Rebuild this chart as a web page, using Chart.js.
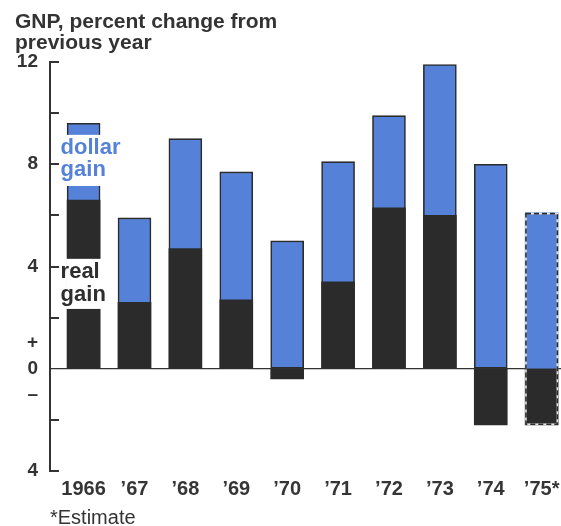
<!DOCTYPE html>
<html>
<head>
<meta charset="utf-8">
<script src="https://cdn.jsdelivr.net/npm/chart.js@4"></script>
<style>
    body { margin: 0; background: #fff; }
    #wrap { width: 561px; height: 526px; position: relative; }
</style>
</head>
<body>
<div id="wrap"><canvas id="gnpChart" width="561" height="526"></canvas></div>
<script>
// values
const years = ['1966', '\u201967', '\u201968', '\u201969', '\u201970', '\u201971', '\u201972', '\u201973', '\u201974', '\u201975*'];
const dollarGain = [9.6, 5.9, 9.0, 7.7, 5.0, 8.1, 9.9, 11.9, 8.0, 6.1];
const realGain = [6.6, 2.6, 4.7, 2.7, -0.4, 3.4, 6.3, 6.0, -2.2, -2.2];
const estimated = [false, false, false, false, false, false, false, false, false, true];
const yTickValues = [12, 8, 4, 1, 0, -1, -4];
const yTickText = ['12', '8', '4', '+', '0', '\u2013', '4'];
const yTickMarks = [12, 10, 8, 6, 4, 2, -2, -4];

const BLUE = '#5582d8';
const BLACK = '#2b2b2b';
const INK = '#333333';
const FONT = "'Liberation Sans', Arial, Helvetica, sans-serif";

// inward tick marks on the y axis
const tickMarks = {
    id: 'tickMarks',
    afterDraw(chart) {
        const ctx = chart.ctx;
        const y = chart.scales.y;
        const left = chart.chartArea.left;
        ctx.save();
        ctx.strokeStyle = INK;
        ctx.lineWidth = 2;
        yTickMarks.forEach(v => {
            const py = Math.round(y.getPixelForValue(v));
            ctx.beginPath();
            ctx.moveTo(left - 1, py);
            ctx.lineTo(left + 9, py);
            ctx.stroke();
        });
        ctx.restore();
    }
};

// dashed outline for estimates, inline labels on the first bar, footnote
const annotations = {
    id: 'annotations',
    afterDatasetsDraw(chart) {
        const ctx = chart.ctx;
        const y = chart.scales.y;
        const black = chart.getDatasetMeta(0).data;
        const blue = chart.getDatasetMeta(1).data;

        ctx.save();
        ctx.lineWidth = 1.6;
        estimated.forEach((est, i) => {
            if (!est) return;
            const b = blue[i], k = black[i];
            const top = Math.min(b.y, b.base, k.y, k.base);
            const bottom = Math.max(b.y, b.base, k.y, k.base);
            const rect = [b.x - b.width / 2 + 0.8, top + 0.8, b.width - 1.6, bottom - top - 1.6];
            ctx.setLineDash([]);
            ctx.strokeStyle = '#e8e8e8';
            ctx.strokeRect(...rect);
            ctx.setLineDash([5, 3]);
            ctx.strokeStyle = BLACK;
            ctx.strokeRect(...rect);
        });
        ctx.restore();

        // "dollar gain" / "real gain" written over the 1966 bar
        const bar = blue[0];
        const bx = bar.x - bar.width / 2;
        const tx = bar.x - 23;
        const gaps = [
            { from: 9.15, to: 7.15, color: BLUE, lines: ['dollar', 'gain'], base: 8.4, step: 22 },
            { from: 4.3, to: 2.34, color: '#2e2e2e', lines: ['real', 'gain'], base: 3.54, step: 23 }
        ];
        ctx.save();
        ctx.font = 'bold 22px ' + FONT;
        ctx.textBaseline = 'alphabetic';
        gaps.forEach(g => {
            const top = y.getPixelForValue(g.from);
            const bottom = y.getPixelForValue(g.to);
            ctx.fillStyle = '#fff';
            ctx.fillRect(bx - 1, top, bar.width + 2, bottom - top);
            ctx.fillStyle = g.color;
            const by = y.getPixelForValue(g.base);
            ctx.fillText(g.lines[0], tx, by);
            ctx.fillText(g.lines[1], tx, by + g.step);
        });
        ctx.restore();
    },
    afterDraw(chart) {
        const ctx = chart.ctx;
        ctx.save();
        ctx.font = '20px ' + FONT;
        ctx.fillStyle = INK;
        ctx.textBaseline = 'alphabetic';
        ctx.fillText('*Estimate', chart.chartArea.left, chart.height - 2);
        ctx.restore();
    }
};

const ctx = document.getElementById('gnpChart');
new Chart(ctx, {
    type: 'bar',
    data: {
        datasets: [{
            label: 'real gain',
            data: realGain.map((v, i) => ({ x: i, y: [0, v] })),
            backgroundColor: BLACK,
            borderWidth: 0,
            grouped: false,
            barThickness: 33
        }, {
            label: 'dollar gain',
            data: dollarGain.map((v, i) => ({ x: i, y: [0, v] })),
            backgroundColor: BLUE,
            borderColor: BLACK,
            borderWidth: estimated.map(e => e ? 0 : 1.6),
            borderSkipped: false,
            grouped: false,
            barThickness: 33
        }]
    },
    options: {
        responsive: false,
        animation: false,
        layout: {
            padding: { left: 15, right: 0, top: 0, bottom: 20 }
        },
        plugins: {
            legend: { display: false },
            tooltip: { enabled: false },
            title: {
                display: true,
                text: ['GNP, percent change from', 'previous year'],
                align: 'start',
                color: INK,
                font: { family: FONT, size: 21, weight: 'bold', lineHeight: 1 },
                padding: { top: 12, bottom: 8 }
            }
        },
        scales: {
            x: {
                type: 'linear',
                offset: false,
                min: -0.66,
                max: 9.38,
                afterBuildTicks: scale => {
                    scale.ticks = years.map((_, i) => ({ value: i }));
                },
                afterFit: scale => { scale.height = 35; },
                grid: { display: false },
                border: { display: false },
                ticks: {
                    autoSkip: false,
                    maxRotation: 0,
                    padding: -2,
                    color: '#353535',
                    font: { family: FONT, size: 20, weight: 'bold' },
                    callback: value => years[Math.round(value)]
                }
            },
            y: {
                min: -4,
                max: 12,
                afterBuildTicks: scale => {
                    scale.ticks = yTickValues.map(v => ({ value: v }));
                },
                afterFit: scale => { scale.width = 35; },
                grid: {
                    drawTicks: false,
                    lineWidth: 1.2,
                    color: c => (c.tick && c.tick.value === 0) ? INK : 'rgba(0,0,0,0)'
                },
                border: { display: true, color: INK, width: 2 },
                ticks: {
                    autoSkip: false,
                    padding: 12,
                    color: INK,
                    font: { family: FONT, size: 19, weight: 'bold' },
                    callback: value => yTickText[yTickValues.indexOf(value)]
                }
            }
        }
    },
    plugins: [tickMarks, annotations]
});
</script>
</body>
</html>
